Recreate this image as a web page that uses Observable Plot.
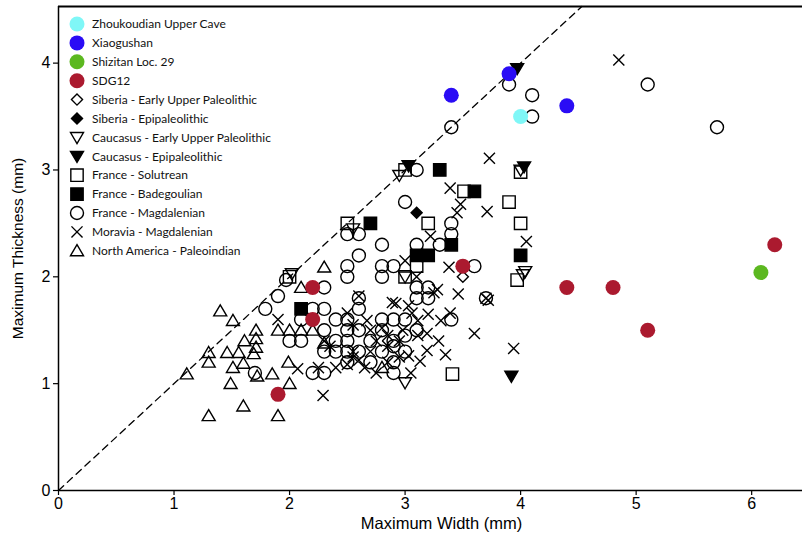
<!DOCTYPE html>
<html>
<head>
<meta charset="utf-8">
<script src="https://cdn.jsdelivr.net/npm/d3@7"></script>
<script src="https://cdn.jsdelivr.net/npm/@observablehq/plot@0.6"></script>
<style>
  body { margin: 0; background: #fff; }
  #wrap { position: relative; width: 802px; height: 540px; }
  #legend { position: absolute; left: 0; top: 0; }
</style>
</head>
<body>
<div id="wrap"><div id="chart"></div><svg id="legend" width="300" height="270"></svg></div>
<script>
// ---------------- data (Maximum Width mm, Maximum Thickness mm) ----------------
const zhoukoudian = [[4.0, 3.5]];
const xiaogushan = [[3.4, 3.7], [3.9, 3.9], [4.4, 3.6]];
const shizitan = [[6.08, 2.04]];
const sdg12 = [[1.9, 0.9], [2.2, 1.9], [2.2, 1.6], [3.5, 2.1], [4.4, 1.9], [4.8, 1.9], [5.1, 1.5], [6.2, 2.3]];
const siberiaEUP = [[3.5, 2.0]];
const siberiaEpi = [[3.1, 2.6]];
const caucasusEUP = [[2.95, 2.95], [4.0, 3.0], [2.55, 2.45], [3.0, 2.0], [2.02, 2.03], [4.02, 2.02], [4.04, 2.05], [3.0, 1.01]];
const caucasusEpi = [[3.97, 3.95], [3.03, 3.04], [4.03, 3.03], [3.92, 1.07]];
const solutrean = [[3.0, 3.0], [4.0, 2.98], [3.51, 2.8], [3.9, 2.7], [3.2, 2.5], [4.0, 2.5], [3.97, 1.97], [3.1, 2.1], [3.0, 2.0], [2.5, 2.5], [3.41, 1.09], [2.0, 2.0]];
const badegoulian = [[3.3, 3.0], [3.6, 2.8], [2.7, 2.5], [3.4, 2.3], [3.1, 2.2], [3.2, 2.2], [4.0, 2.2], [2.1, 1.7]];
const magdalenian = [
  [3.9, 3.8], [4.1, 3.7], [4.1, 3.5], [3.4, 3.4], [5.1, 3.8], [5.7, 3.4], [3.1, 3.0], [3.0, 2.7],
  [3.4, 2.5], [3.4, 2.4], [3.3, 2.3], [3.6, 2.1], [3.1, 2.3], [3.1, 1.9], [3.2, 1.9], [3.1, 1.8],
  [3.2, 1.8], [3.4, 1.6], [3.7, 1.8], [2.5, 2.4], [2.6, 2.4], [2.8, 2.3], [2.6, 2.2], [2.5, 2.1],
  [2.5, 2.0], [2.8, 2.1], [2.8, 2.0], [2.9, 2.1], [2.3, 1.9], [2.2, 1.7], [2.3, 1.7], [2.1, 1.6],
  [2.0, 1.4], [2.1, 1.4], [1.97, 1.97], [1.9, 1.82], [1.79, 1.7], [2.6, 1.8],
  [2.4, 1.6], [2.5, 1.6], [2.6, 1.7], [2.3, 1.5], [2.5, 1.5], [2.6, 1.5], [2.8, 1.6], [2.9, 1.6],
  [3.0, 1.6], [2.4, 1.4], [2.5, 1.4], [2.7, 1.4], [2.9, 1.4], [2.3, 1.3], [2.4, 1.3], [2.5, 1.3],
  [2.6, 1.3], [2.8, 1.3], [2.9, 1.35], [3.0, 1.3], [2.5, 1.2], [2.7, 1.2], [2.9, 1.2], [2.2, 1.1],
  [2.3, 1.1], [2.9, 1.1], [3.1, 1.5], [1.7, 1.1], [2.8, 1.5], [3.0, 1.45]
];
const moravia = [
  [4.85, 4.03], [3.73, 3.11], [3.39, 2.83], [3.48, 2.68], [3.45, 2.6], [3.71, 2.61], [3.22, 2.38],
  [4.05, 2.33], [3.38, 2.09], [3.46, 1.84], [3.7, 1.8], [3.72, 1.78], [3.0, 2.15], [3.1, 2.0],
  [3.25, 1.85], [3.28, 1.88], [2.92, 1.75], [3.03, 1.73], [3.06, 1.66], [3.39, 1.66], [3.31, 1.59],
  [3.6, 1.47], [3.94, 1.33], [3.19, 1.47], [3.11, 1.59], [3.11, 1.45], [3.29, 1.4], [3.19, 1.31],
  [3.35, 1.27], [3.13, 1.21], [3.03, 1.26], [2.29, 0.89], [2.6, 1.82], [2.5, 1.66], [2.67, 1.59],
  [2.8, 1.52], [2.89, 1.76], [2.98, 1.5], [2.25, 1.15], [2.07, 1.14], [1.9, 1.6], [2.55, 1.55],
  [2.7, 1.5], [2.75, 1.4], [2.85, 1.45], [2.95, 1.4], [2.85, 1.35], [2.55, 1.3], [2.6, 1.22],
  [2.7, 1.3], [2.5, 1.18], [2.55, 1.25], [2.65, 1.15], [2.85, 1.2], [2.95, 1.25], [2.4, 1.15],
  [2.35, 1.35], [2.3, 1.4], [3.05, 1.1], [2.75, 1.1], [3.2, 1.65]
];
const paleoindian = [
  [1.4, 1.68], [1.51, 1.59], [1.71, 1.5], [1.71, 1.42], [1.71, 1.34], [1.61, 1.4], [1.3, 1.29],
  [1.3, 1.2], [1.46, 1.29], [1.56, 1.29], [1.51, 1.15], [1.6, 1.19], [1.49, 1.0], [1.11, 1.09],
  [1.6, 0.79], [1.3, 0.7], [1.9, 0.7], [2.0, 1.0], [1.85, 1.09], [1.99, 1.2], [1.9, 1.5],
  [2.0, 1.5], [2.1, 1.5], [2.2, 1.5], [2.1, 1.9], [2.3, 2.09], [1.72, 1.07], [2.8, 1.15],
  [2.3, 1.38], [1.69, 1.28]
];
const xTicks = [0, 1, 2, 3, 4, 5, 6];
const yTicks = [0, 1, 2, 3, 4];
const legendNames = [
  "Zhoukoudian Upper Cave", "Xiaogushan", "Shizitan Loc. 29", "SDG12",
  "Siberia - Early Upper Paleolithic", "Siberia - Epipaleolithic",
  "Caucasus - Early Upper Paleolithic", "Caucasus - Epipaleolithic",
  "France - Solutrean", "France - Badegoulian", "France - Magdalenian",
  "Moravia - Magdalenian", "North America - Paleoindian"
];
const xLabel = "Maximum Width (mm)";
const yLabel = "Maximum Thickness (mm)";

// ---------------- symbols ----------------
function mk(fn) { return { draw(ctx, size) { fn(ctx, Math.sqrt(size / Math.PI)); } }; }
const S = {
  circle: mk((c, r) => { c.moveTo(r, 0); c.arc(0, 0, r, 0, 2 * Math.PI); }),
  square: mk((c, r) => { const s = r * 0.95; c.moveTo(-s, -s); c.lineTo(s, -s); c.lineTo(s, s); c.lineTo(-s, s); c.closePath(); }),
  diamond: mk((c, r) => { const d = r * 0.85; c.moveTo(0, -d); c.lineTo(d, 0); c.lineTo(0, d); c.lineTo(-d, 0); c.closePath(); }),
  triUp: mk((c, r) => { c.moveTo(0, -r * 0.95); c.lineTo(r, r * 0.75); c.lineTo(-r, r * 0.75); c.closePath(); }),
  triDown: mk((c, r) => { c.moveTo(0, r * 0.95); c.lineTo(r, -r * 0.75); c.lineTo(-r, -r * 0.75); c.closePath(); }),
  cross: mk((c, r) => { const k = r * 0.85; c.moveTo(-k, -k); c.lineTo(k, k); c.moveTo(k, -k); c.lineTo(-k, k); })
};

const R = 6.5, SW = 1.4;
const groups = [
  { data: zhoukoudian, sym: S.circle, fill: "#7ff7f7", stroke: "none", r: 7.5 },
  { data: xiaogushan, sym: S.circle, fill: "#2a0cf5", stroke: "none", r: 7.5 },
  { data: shizitan, sym: S.circle, fill: "#5cb820", stroke: "none", r: 7.5 },
  { data: sdg12, sym: S.circle, fill: "#ab1a2f", stroke: "none", r: 7.5 },
  { data: siberiaEUP, sym: S.diamond, fill: "none", stroke: "black", r: R },
  { data: siberiaEpi, sym: S.diamond, fill: "black", stroke: "black", r: R },
  { data: caucasusEUP, sym: S.triDown, fill: "none", stroke: "black", r: R },
  { data: caucasusEpi, sym: S.triDown, fill: "black", stroke: "black", r: R },
  { data: solutrean, sym: S.square, fill: "none", stroke: "black", r: R },
  { data: badegoulian, sym: S.square, fill: "black", stroke: "black", r: R },
  { data: magdalenian, sym: S.circle, fill: "none", stroke: "black", r: R },
  { data: moravia, sym: S.cross, fill: "none", stroke: "black", r: R },
  { data: paleoindian, sym: S.triUp, fill: "none", stroke: "black", r: R }
];

const xMax = 6.44, yMax = 4.53;
const identity = [0, yMax].map(v => [v, v]);
const axisFont = "'Liberation Sans Narrow', 'Arial Narrow', 'Liberation Sans', Arial, sans-serif";

// draw black symbols first, coloured dots on top
const order = [12, 11, 10, 9, 8, 7, 6, 5, 4, 0, 1, 2, 3];
const dotMarks = order.map(i => {
  const g = groups[i];
  return Plot.dot(g.data, { x: d => d[0], y: d => d[1], symbol: g.sym, r: g.r, fill: g.fill, stroke: g.stroke, strokeWidth: SW });
});

const chart = Plot.plot({
  width: 802, height: 540,
  marginLeft: 58, marginRight: 0, marginTop: 6, marginBottom: 50,
  x: { domain: [0, xMax] },
  y: { domain: [0, yMax] },
  style: { background: "white", color: "black", fontFamily: axisFont, fontSize: "16px" },
  marks: [
    Plot.line(identity, { x: d => d[0], y: d => d[1], stroke: "black", strokeWidth: 1.3, strokeDasharray: "7,5" }),
    ...dotMarks,
    Plot.ruleX([0], { stroke: "black", strokeWidth: 1.5 }),
    Plot.ruleY([0], { stroke: "black", strokeWidth: 1.5 }),
    Plot.ruleY([yMax], { stroke: "black", strokeWidth: 2 }),
    Plot.axisX(xTicks, { tickSize: 5, tickPadding: 2, label: null, fontSize: 16, fontFamily: axisFont, tickFormat: d => String(d), strokeWidth: 1.2 }),
    Plot.axisY(yTicks, { tickSize: 5, tickPadding: 3, label: null, fontSize: 16, fontFamily: axisFont, tickFormat: d => String(d), strokeWidth: 1.2 }),
    Plot.text([xLabel], { text: d => d, frameAnchor: "bottom", lineAnchor: "middle", textAnchor: "middle", dx: 11, dy: 33, fontSize: 16.5, fontFamily: axisFont, fill: "black" }),
    Plot.text([yLabel], { text: d => d, frameAnchor: "left", lineAnchor: "middle", textAnchor: "middle", dx: -40, rotate: -90, fontSize: 15.5, fontFamily: axisFont, fill: "black" })
  ]
});
document.getElementById("chart").appendChild(chart);

// ---------------- legend ----------------
const leg = d3.select("#legend");
const rowH = 18.9, top0 = 24, symX = 77, textX = 92;
legendNames.forEach((name, i) => {
  const g = groups[i];
  const y = top0 + i * rowH;
  leg.append("path")
    .attr("d", d3.symbol(g.sym, Math.PI * g.r * g.r)())
    .attr("transform", `translate(${symX},${y})`)
    .attr("fill", g.fill).attr("stroke", g.stroke).attr("stroke-width", SW);
  leg.append("text")
    .attr("x", textX).attr("y", y).attr("dy", "0.35em")
    .attr("font-family", "Lato, 'Noto Sans', sans-serif").attr("font-size", 12)
    .attr("fill", "#111")
    .text(name);
});
</script>
</body>
</html>
